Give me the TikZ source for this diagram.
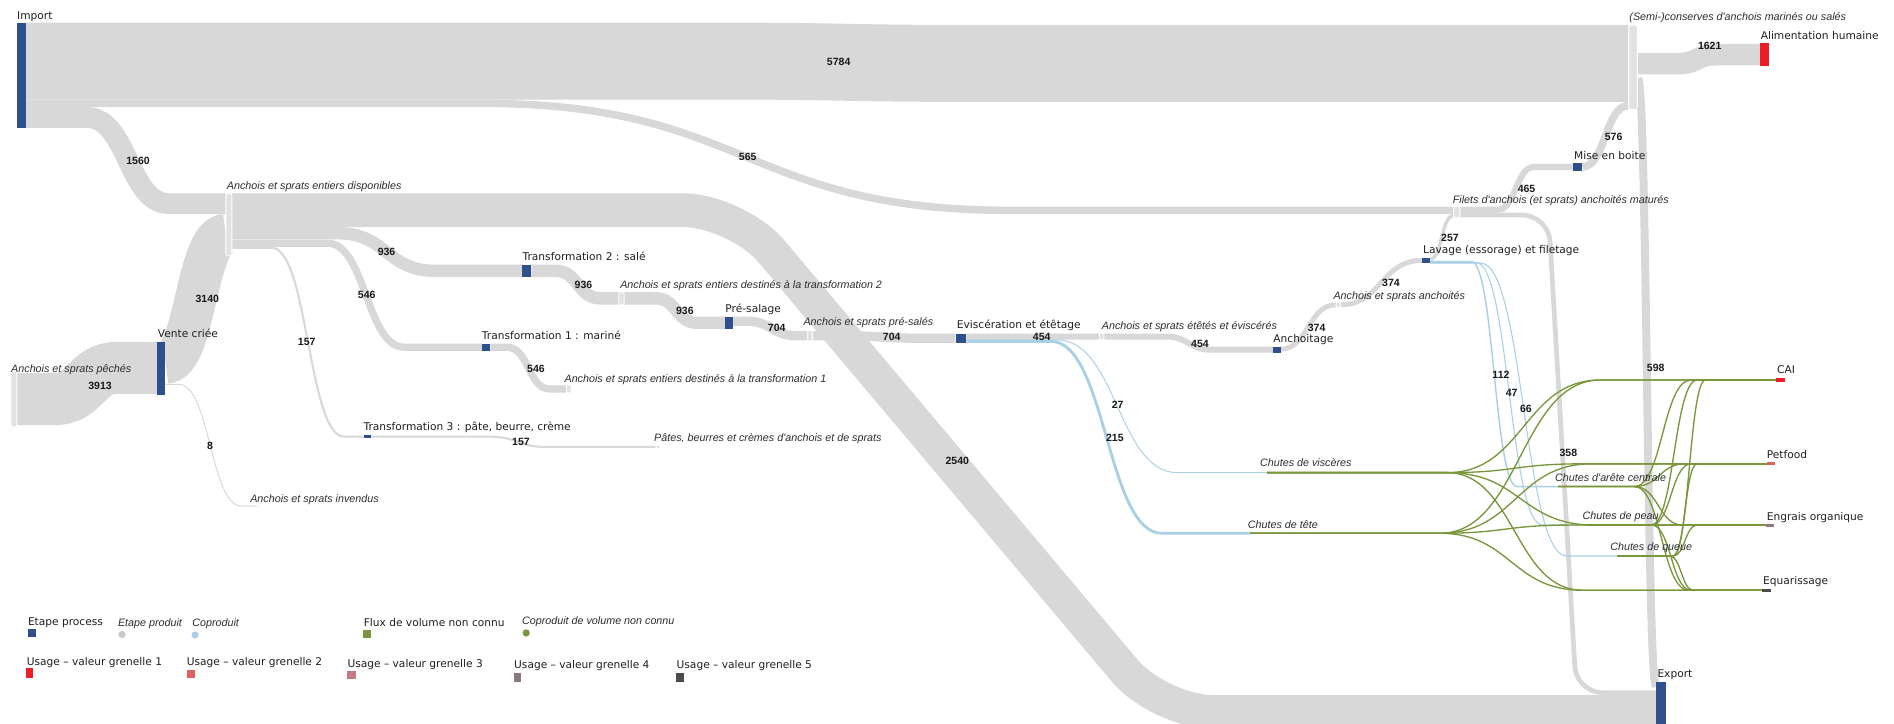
\documentclass[tikz,border=0pt]{standalone}
\usepackage{fontspec}
\setmainfont{DejaVu Sans}
\newfontfamily\arialike{Liberation Sans}
\usetikzlibrary{calc}

\definecolor{bandgray}{RGB}{216,216,216}
\definecolor{prodgray}{RGB}{226,226,226}
\definecolor{procblue}{RGB}{46,80,140}
\definecolor{coprodblue}{RGB}{170,208,228}
\definecolor{unkgreen}{RGB}{122,150,58}
\definecolor{gA}{RGB}{238,30,36}
\definecolor{gB}{RGB}{226,96,96}
\definecolor{gC}{RGB}{196,124,132}
\definecolor{gD}{RGB}{140,120,126}
\definecolor{gE}{RGB}{76,76,76}

% Sankey link: flat from source, S-bend between x=#4 and x=#5, flat to target
\newcommand\skband[5]{%
  \pgfmathsetmacro\skmid{0.5*(#4+#5)}%
  \draw[#1] let \p1=(#2), \p2=(#3) in
    (\p1) -- (#4pt,\y1) .. controls (\skmid pt,\y1) and (\skmid pt,\y2) .. (#5pt,\y2) -- (\p2);}

\tikzset{
  band/.style={draw=bandgray, line cap=butt},
  coprod/.style={draw=coprodblue, line cap=butt},
  unk/.style={draw=unkgreen, line width=1.1pt},
  proc/.style={rectangle, fill=procblue, inner sep=0pt, outer sep=0pt},
  usage/.style={rectangle, inner sep=0pt, outer sep=0pt},
  prod/.style={rectangle, rounded corners=2pt, fill=prodgray, draw=white, line width=0.7pt, inner sep=0pt},
  plabel/.style={anchor=base west, inner sep=0pt, font=\fontsize{8.8}{10}\selectfont, text=black!88},
  itlabel/.style={anchor=base west, inner sep=0pt, font=\arialike\itshape\fontsize{8.9}{10}\selectfont, text=black!82},
  val/.style={inner sep=0pt, font=\arialike\bfseries\fontsize{8.7}{10}\selectfont, text=black!90},
  dot/.style={circle, inner sep=0pt, minimum size=6pt},
}

\begin{document}
\begin{tikzpicture}[x=1pt,y=-1pt]
\useasboundingbox (0,0) rectangle (1568,598.6);
\fill[white] (0,0) rectangle (1568,598.6);

% ---------- link ports ----------
\coordinate (imp-o1) at (21.5,50.6);
\coordinate (imp-o2) at (21.5,85.6);
\coordinate (imp-o3) at (21.5,97.3);
\coordinate (semi-i1) at (1348,52.5);
\coordinate (semi-i2) at (1348,87.5);
\coordinate (semi-o1) at (1356,52.7);
\coordinate (semi-o2) at (1356,64.9);
\coordinate (pec-o) at (14,330.5);
\coordinate (ven-i) at (130,304.5);
\coordinate (ven-o1) at (137,300.3);
\coordinate (ven-o2) at (137,318.2);
\coordinate (dis-i1) at (187,168.6);
\coordinate (dis-i2) at (187,194.4);
\coordinate (dis-o1) at (192,174);
\coordinate (dis-o2) at (192,193.1);
\coordinate (dis-o3) at (192,201.3);
\coordinate (dis-o4) at (192,205.2);
\coordinate (inv-i) at (212,419);
\coordinate (t2-i) at (432,224.2);
\coordinate (t2-o) at (440,224.2);
\coordinate (pt2-i) at (512.5,247);
\coordinate (pt2-o) at (516.5,247);
\coordinate (pre-i) at (600,267.2);
\coordinate (pre-o) at (607,265.9);
\coordinate (t1-i) at (399,287.5);
\coordinate (t1-o) at (406,287.5);
\coordinate (pt1-i) at (469,322);
\coordinate (t3-i) at (301,361.5);
\coordinate (t3-o) at (307,361.5);
\coordinate (pt3-i) at (543,370);
\coordinate (pps-i) at (668.5,278);
\coordinate (pps-o) at (672.5,278);
\coordinate (evi-i) at (791,280);
\coordinate (evi-o1) at (800,278.7);
\coordinate (evi-o2) at (800,281.4);
\coordinate (evi-o3) at (800,282.6);
\coordinate (pee-i) at (910,278.6);
\coordinate (pee-o) at (914,278.6);
\coordinate (anc-i) at (1054,289.5);
\coordinate (anc-o) at (1060,289.1);
\coordinate (pan-i) at (1106,252.3);
\coordinate (pan-o) at (1110,252.3);
\coordinate (lav-i) at (1177,215.6);
\coordinate (lav-o1) at (1184,214.7);
\coordinate (lav-o2) at (1184,216.6);
\coordinate (lav-o3) at (1184,217.3);
\coordinate (lav-o4) at (1184,217.9);
\coordinate (fil-i1) at (1203,174.1);
\coordinate (fil-i2) at (1203,178.6);
\coordinate (fil-o1) at (1209,173.6);
\coordinate (fil-o2) at (1209,178);
\coordinate (mise-i) at (1302,138.2);
\coordinate (mise-o) at (1310,138.2);
\coordinate (alim-i) at (1457.5,45.3);
\coordinate (exp-i1) at (1371,568.3);
\coordinate (exp-i2) at (1371,573.5);
\coordinate (exp-i3) at (1371,589.5);
\coordinate (cv) at (1049,391.3);
\coordinate (ct) at (1035,441.5);
\coordinate (ca) at (1290,402.8);
\coordinate (cp) at (1315,434.6);
\coordinate (cq) at (1339,460.3);
\coordinate (cai-i) at (1470,314.6);
\coordinate (pet-i) at (1463,384);
\coordinate (eng-i) at (1462,434.7);
\coordinate (equ-i) at (1459,488.6);

% ---------- product flows ----------
\skband{band,line width=63.7}{imp-o1}{semi-i1}{600}{800}
\skband{band,line width=6.2}{imp-o2}{fil-i1}{400}{835}
\skband{band,line width=17.2}{imp-o3}{dis-i1}{72}{140}
\skband{band,line width=43}{pec-o}{ven-i}{45}{97}
\skband{band,line width=34.5}{ven-o1}{dis-i2}{137}{187}
\skband{band,line width=0.8}{ven-o2}{inv-i}{148}{200}
\draw[band,line width=28,rounded corners=45] (dis-o1) -- (610,174) -- (960,589.5) -- (exp-i3);
\skband{band,line width=10.3}{dis-o2}{t2-i}{280}{360}
\skband{band,line width=6}{dis-o3}{t1-i}{271}{335}
\skband{band,line width=1.7}{dis-o4}{t3-i}{225}{285}
\skband{band,line width=10.3}{t2-o}{pt2-i}{460}{497}
\skband{band,line width=10.3}{pt2-o}{pre-i}{543}{577}
\skband{band,line width=6}{t1-o}{pt1-i}{420}{455}
\skband{band,line width=1.7}{t3-o}{pt3-i}{405}{452}
\skband{band,line width=7.7}{pre-o}{pps-i}{618}{660}
\skband{band,line width=7.7}{pps-o}{evi-i}{700}{760}
\skband{band,line width=5}{evi-o1}{pee-i}{850}{880}
\skband{band,line width=5}{pee-o}{anc-i}{965}{1003}
\skband{band,line width=4.1}{anc-o}{pan-i}{1060}{1106}
\skband{band,line width=4.1}{pan-o}{lav-i}{1110}{1177}
\skband{band,line width=2.8}{lav-o1}{fil-i2}{1184}{1203}
\skband{band,line width=5.1}{fil-o1}{mise-i}{1240}{1270}
\draw[band,line width=3.9,rounded corners=22] (fil-o2) -- (1282,178) -- (1305,573.5) -- (exp-i2);
\skband{band,line width=6.3}{mise-o}{semi-i2}{1310}{1348}
\skband{band,line width=17.8}{semi-o1}{alim-i}{1390}{1420}
\skband{band,line width=6.6}{semi-o2}{exp-i1}{1356}{1371}

% ---------- co-products ----------
\skband{coprod,line width=0.8}{evi-o2}{cv}{875}{975}
\skband{coprod,line width=2.4}{evi-o3}{ct}{870}{962}
\skband{coprod,line width=1.2}{lav-o2}{ca}{1218}{1256}
\skband{coprod,line width=0.9}{lav-o3}{cp}{1222}{1277}
\skband{coprod,line width=0.9}{lav-o4}{cq}{1226}{1297}

% ---------- flows of unknown volume ----------
\skband{unk}{cv}{cai-i}{1198}{1325}
\skband{unk}{cv}{pet-i}{1198}{1310}
\skband{unk}{cv}{eng-i}{1198}{1320}
\skband{unk}{cv}{equ-i}{1198}{1310}
\skband{unk}{ct}{cai-i}{1192}{1325}
\skband{unk}{ct}{pet-i}{1192}{1318}
\skband{unk}{ct}{eng-i}{1192}{1300}
\skband{unk}{ct}{equ-i}{1192}{1310}
\skband{unk}{ca}{cai-i}{1353}{1400}
\skband{unk}{ca}{pet-i}{1353}{1395}
\skband{unk}{ca}{eng-i}{1353}{1393}
\skband{unk}{ca}{equ-i}{1353}{1398}
\skband{unk}{cp}{cai-i}{1367}{1405}
\skband{unk}{cp}{pet-i}{1367}{1400}
\skband{unk}{cp}{eng-i}{1367}{1400}
\skband{unk}{cp}{equ-i}{1367}{1400}
\skband{unk}{cq}{cai-i}{1385}{1412}
\skband{unk}{cq}{pet-i}{1385}{1405}
\skband{unk}{cq}{eng-i}{1385}{1405}
\skband{unk}{cq}{equ-i}{1382}{1402}

% ---------- product nodes ----------
\node[prod,minimum width=5,minimum height=46] (peches) at (11.5,330.5) {};
\node[prod,minimum width=5,minimum height=52] (dispo) at (189.5,186) {};
\node[prod,minimum width=4.5,minimum height=11] (pt2) at (514.5,247) {};
\node[prod,minimum width=4,minimum height=7] (pt1) at (471,322) {};
\node[prod,minimum width=4,minimum height=2.5,rounded corners=1pt] (pt3) at (545,370) {};
\node[prod,minimum width=4.5,minimum height=9] (pps) at (670.5,278) {};
\node[prod,minimum width=4,minimum height=6] (pee) at (912,278.6) {};
\node[prod,minimum width=4,minimum height=5] (pan) at (1108,252.3) {};
\node[prod,minimum width=5,minimum height=9.5] (filets) at (1206,175.5) {};
\node[prod,minimum width=7,minimum height=70] (semi) at (1352,55.7) {};
\node[prod,minimum width=3,minimum height=2,rounded corners=1pt] (invendus) at (213.5,419) {};

% ---------- process nodes ----------
\node[proc,minimum width=7.5,minimum height=87.4] (imp) at (17.75,62.5) {};
\node[proc,minimum width=7,minimum height=44] (vente) at (133.5,305) {};
\node[proc,minimum width=8,minimum height=10.3] (t2) at (436,224.2) {};
\node[proc,minimum width=7,minimum height=6] (t1) at (402.5,287.5) {};
\node[proc,minimum width=6,minimum height=3] (t3) at (304,361.5) {};
\node[proc,minimum width=7,minimum height=10.3] (presal) at (603.5,267.2) {};
\node[proc,minimum width=8.5,minimum height=7.7] (evisc) at (795.5,280) {};
\node[proc,minimum width=6.5,minimum height=5] (anch) at (1057,289.5) {};
\node[proc,minimum width=7,minimum height=4.6] (lavage) at (1180.5,215.6) {};
\node[proc,minimum width=8,minimum height=6.3] (mise) at (1306,138.2) {};
\node[proc,minimum width=8,minimum height=38.5] (export) at (1375,584.2) {};

% ---------- usage nodes ----------
\node[usage,fill=gA,minimum width=7,minimum height=18.6] (alim) at (1460.9,45.3) {};
\node[usage,fill=gA,minimum width=8,minimum height=3] (cai) at (1474,314.6) {};
\node[usage,fill=gB,minimum width=6.5,minimum height=2.5] (petfood) at (1466,384) {};
\node[usage,fill=gD,minimum width=7,minimum height=2.5] (engrais) at (1465.5,434.7) {};
\node[usage,fill=gE,minimum width=7,minimum height=2.5] (equar) at (1462.5,488.6) {};

% ---------- step labels ----------
\node[plabel] (imp-lbl) at (14,16) {Import};
\node[plabel] (ven-lbl) at (130.5,279.8) {Vente criée};
\node[plabel] (t2-lbl) at (432.5,215.7) {Transformation 2 : salé};
\node[plabel] (t1-lbl) at (398.8,281) {Transformation 1 : mariné};
\node[plabel] (t3-lbl) at (300.8,356.8) {Transformation 3 : pâte, beurre, crème};
\node[plabel] (pre-lbl) at (600.4,259) {Pré-salage};
\node[plabel] (evi-lbl) at (792,272.2) {Eviscération et étêtage};
\node[plabel] (anc-lbl) at (1054,283.6) {Anchoitage};
\node[plabel] (lav-lbl) at (1178,209.5) {Lavage (essorage) et filetage};
\node[plabel] (mise-lbl) at (1303,131.8) {Mise en boite};
\node[plabel] (exp-lbl) at (1372,560.6) {Export};
\node[plabel] (alim-lbl) at (1457.5,32.5) {Alimentation humaine};
\node[plabel] (cai-lbl) at (1471,309.5) {CAI};
\node[plabel] (pet-lbl) at (1462.5,379.5) {Petfood};
\node[plabel] (eng-lbl) at (1462.5,430.5) {Engrais organique};
\node[plabel] (equ-lbl) at (1459.5,483.8) {Equarissage};

% ---------- product labels ----------
\node[itlabel] (pec-lbl) at (9.1,308.1) {Anchois et sprats pêchés};
\node[itlabel] (dis-lbl) at (187.7,156.8) {Anchois et sprats entiers disponibles};
\node[itlabel] (pt2-lbl) at (513.3,239) {Anchois et sprats entiers destinés à la transformation 2};
\node[itlabel] (pt1-lbl) at (467.2,316.8) {Anchois et sprats entiers destinés à la transformation 1};
\node[itlabel] (pt3-lbl) at (541.4,365.8) {Pâtes, beurres et crèmes d'anchois et de sprats};
\node[itlabel] (pps-lbl) at (665,269.1) {Anchois et sprats pré-salés};
\node[itlabel] (pee-lbl) at (912,272.7) {Anchois et sprats étêtés et éviscérés};
\node[itlabel] (pan-lbl) at (1103.8,247.8) {Anchois et sprats anchoités};
\node[itlabel] (fil-lbl) at (1202.6,168.8) {Filets d'anchois (et sprats) anchoités maturés};
\node[itlabel] (semi-lbl) at (1348.8,17) {(Semi-)conserves d'anchois marinés ou salés};
\node[itlabel] (inv-lbl) at (207,416.4) {Anchois et sprats invendus};
\node[itlabel] (cv-lbl) at (1043,386.6) {Chutes de viscères};
\node[itlabel] (ct-lbl) at (1032.9,437.4) {Chutes de tête};
\node[itlabel] (ca-lbl) at (1287.3,398.5) {Chutes d'arête centrale};
\node[itlabel] (cp-lbl) at (1310,430.2) {Chutes de peau};
\node[itlabel] (cq-lbl) at (1332.9,455.8) {Chutes de queue};

% ---------- flow values ----------
\node[val] (v5784) at (694.3,51.6) {5784};
\node[val] (v1560) at (114.3,133.3) {1560};
\node[val] (v565) at (619,130) {565};
\node[val] (v3140) at (171.6,247.8) {3140};
\node[val] (v3913) at (82.8,319.3) {3913};
\node[val] (v8) at (173.8,369.2) {8};
\node[val] (v157a) at (253.9,282.8) {157};
\node[val] (v546a) at (303.6,244.2) {546};
\node[val] (v936a) at (320,208.5) {936};
\node[val] (v936b) at (483,236.2) {936};
\node[val] (v936c) at (567,257.5) {936};
\node[val] (v546b) at (443.7,305.5) {546};
\node[val] (v157b) at (431.3,365.9) {157};
\node[val] (v704a) at (643,271.8) {704};
\node[val] (v704b) at (738.2,278.7) {704};
\node[val] (v2540) at (792.5,381.4) {2540};
\node[val] (v454a) at (862.4,278.7) {454};
\node[val] (v27) at (925.3,335.3) {27};
\node[val] (v215) at (923,362.5) {215};
\node[val] (v454b) at (993.4,285) {454};
\node[val] (v374a) at (1090,271.8) {374};
\node[val] (v374b) at (1151.5,234) {374};
\node[val] (v257) at (1200.4,196.8) {257};
\node[val] (v465) at (1263.8,156.5) {465};
\node[val] (v576) at (1335.9,113.7) {576};
\node[val] (v1621) at (1415.4,38.1) {1621};
\node[val] (v112) at (1242.6,310.4) {112};
\node[val] (v47) at (1251.4,325) {47};
\node[val] (v66) at (1263.3,338.3) {66};
\node[val] (v358) at (1298.4,375.3) {358};
\node[val] (v598) at (1370.7,304.4) {598};

% ---------- legend ----------
\node[plabel] (lg-proc) at (23,518) {Etape process};
\node[proc,minimum width=6.5,minimum height=6.5] (lg-proc-sw) at (26.3,524.3) {};
\node[itlabel] (lg-prod) at (97.5,518.4) {Etape produit};
\node[dot,fill=prodgray!90!black] (lg-prod-sw) at (101,525.3) {};
\node[itlabel] (lg-cop) at (159,518.4) {Coproduit};
\node[dot,fill=coprodblue] (lg-cop-sw) at (161.5,525.7) {};
\node[plabel] (lg-unk) at (301,519) {Flux de volume non connu};
\node[usage,fill=unkgreen,minimum width=6.5,minimum height=6.5] (lg-unk-sw) at (303.5,525) {};
\node[itlabel] (lg-unkc) at (432,517.2) {Coproduit de volume non connu};
\node[dot,fill=unkgreen] (lg-unkc-sw) at (435.6,524) {};

\node[plabel] (lg-g1) at (22,550.7) {Usage – valeur grenelle 1};
\node[usage,fill=gA,minimum width=6,minimum height=8] (lg-g1-sw) at (24.5,557) {};
\node[plabel] (lg-g2) at (154.5,551.2) {Usage – valeur grenelle 2};
\node[usage,fill=gB,minimum width=6.5,minimum height=7] (lg-g2-sw) at (157.8,557.8) {};
\node[plabel] (lg-g3) at (287.5,552.2) {Usage – valeur grenelle 3};
\node[usage,fill=gC,minimum width=7,minimum height=7] (lg-g3-sw) at (291,558.8) {};
\node[plabel] (lg-g4) at (425.5,553.2) {Usage – valeur grenelle 4};
\node[usage,fill=gD,minimum width=6,minimum height=8] (lg-g4-sw) at (428.5,561) {};
\node[plabel] (lg-g5) at (560,553.2) {Usage – valeur grenelle 5};
\node[usage,fill=gE,minimum width=6,minimum height=8] (lg-g5-sw) at (563,561) {};
\end{tikzpicture}
\end{document}
